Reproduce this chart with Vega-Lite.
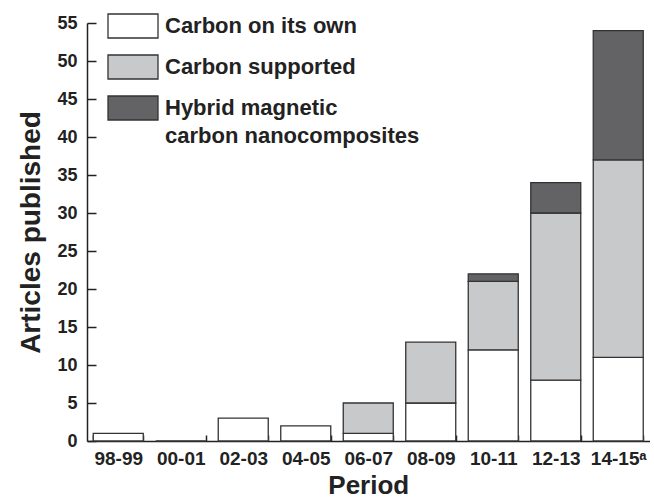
{
  "$schema": "https://vega.github.io/schema/vega-lite/v6.json",
  "width": 562.5,
  "height": 418,
  "autosize": "none",
  "padding": {"left": 87, "top": 23, "right": 4.5, "bottom": 60},
  "config": {
    "font": "Liberation Sans",
    "view": {"stroke": null},
    "axis": {"domainColor": "#222", "domainWidth": 1.5, "ticks": true, "tickColor": "#222", "tickOpacity": 1, "tickWidth": 1.5, "labelColor": "#222", "titleColor": "#222", "labelFontWeight": "bold", "titleFontWeight": "bold", "grid": false}
  },
  "data": {"values": [
    {"period": "98-99", "type": "Carbon on its own", "count": 1},
    {"period": "00-01", "type": "Carbon on its own", "count": 0},
    {"period": "02-03", "type": "Carbon on its own", "count": 3},
    {"period": "04-05", "type": "Carbon on its own", "count": 2},
    {"period": "06-07", "type": "Carbon on its own", "count": 1},
    {"period": "06-07", "type": "Carbon supported", "count": 4},
    {"period": "08-09", "type": "Carbon on its own", "count": 5},
    {"period": "08-09", "type": "Carbon supported", "count": 8},
    {"period": "10-11", "type": "Carbon on its own", "count": 12},
    {"period": "10-11", "type": "Carbon supported", "count": 9},
    {"period": "10-11", "type": "Hybrid magnetic carbon nanocomposites", "count": 1},
    {"period": "12-13", "type": "Carbon on its own", "count": 8},
    {"period": "12-13", "type": "Carbon supported", "count": 22},
    {"period": "12-13", "type": "Hybrid magnetic carbon nanocomposites", "count": 4},
    {"period": "14-15", "type": "Carbon on its own", "count": 11},
    {"period": "14-15", "type": "Carbon supported", "count": 26},
    {"period": "14-15", "type": "Hybrid magnetic carbon nanocomposites", "count": 17}
  ]},
  "mark": {"type": "bar", "stroke": "#333", "strokeWidth": 1.3},
  "encoding": {
    "x": {"field": "period", "type": "nominal", "sort": ["98-99", "00-01", "02-03", "04-05", "06-07", "08-09", "10-11", "12-13", "14-15"], "scale": {"paddingInner": 0.2, "paddingOuter": 0.1},
      "axis": {"orient": "bottom", "title": "Period", "titleFontSize": 26, "titlePadding": 4, "labelFontSize": 19, "labelPadding": 14, "ticks": true, "tickColor": "#222", "tickOpacity": 1, "tickSize": -6, "tickBand": "extent", "labelAngle": 0,
        "labelExpr": "datum.value == '14-15' ? '14-15ᵃ' : datum.value"}},
    "y": {"field": "count", "type": "quantitative", "stack": "zero", "scale": {"domain": [0, 55], "nice": false},
      "axis": {"orient": "left", "title": "Articles published", "titleFontSize": 28, "titlePadding": 11, "labelFontSize": 18, "labelPadding": 19, "ticks": true, "tickColor": "#222", "tickOpacity": 1, "tickSize": -9,
        "values": [0, 5, 10, 15, 20, 25, 30, 35, 40, 45, 50, 55]}},
    "color": {"field": "type", "type": "nominal",
      "scale": {"domain": ["Carbon on its own", "Carbon supported", "Hybrid magnetic carbon nanocomposites"], "range": ["#ffffff", "#c8c9cb", "#636365"]},
      "legend": {"title": null, "orient": "none", "legendX": 20, "legendY": -23, "padding": 0,
        "symbolType": "M-1,-0.48H1V0.48H-1Z", "symbolSize": 2500, "symbolStrokeColor": "#333", "symbolStrokeWidth": 1.3, "symbolOpacity": 1,
        "labelFontSize": 22, "labelFontWeight": "bold", "labelColor": "#222", "labelOffset": 6, "rowPadding": 0, "labelLimit": 400,
        "labelExpr": "datum.label == 'Hybrid magnetic carbon nanocomposites' ? ['Hybrid magnetic', 'carbon nanocomposites'] : datum.label",
        "encode": {"labels": {"update": {"lineHeight": {"value": 28}}}}}},
    "order": {"field": "type", "sort": "ascending"}
  }
}
